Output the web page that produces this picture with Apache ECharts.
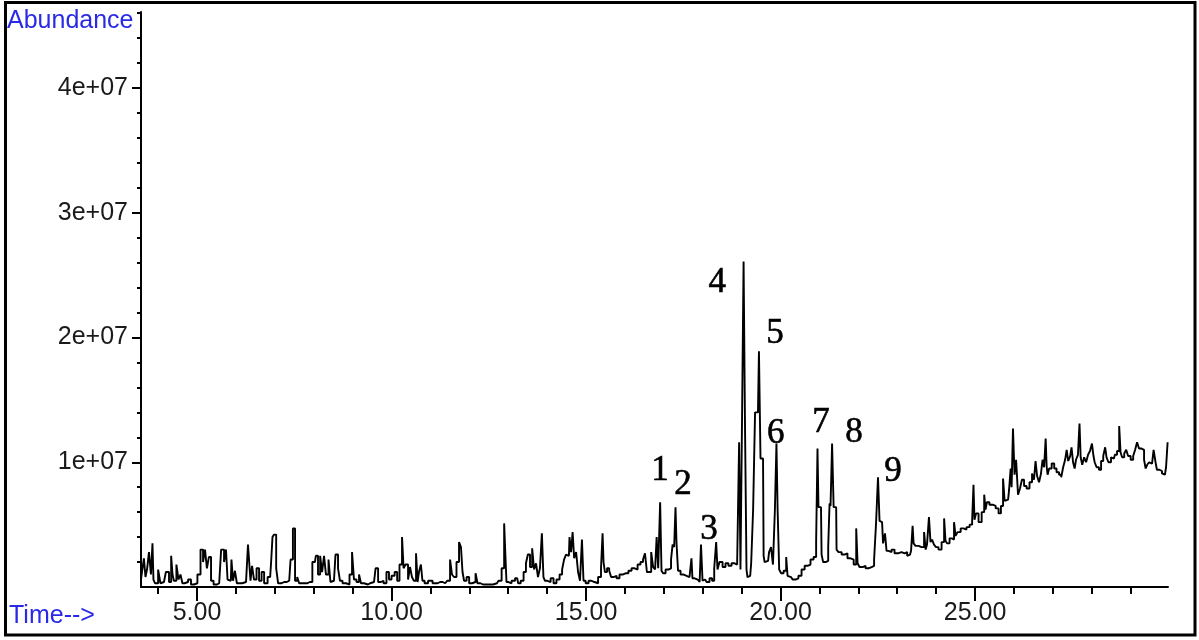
<!DOCTYPE html>
<html><head><meta charset="utf-8">
<script src="https://cdn.jsdelivr.net/npm/echarts@6/dist/echarts.min.js"></script>
<style>html,body{margin:0;padding:0;background:#fff}#c{width:1199px;height:640px}</style>
</head><body><div id="c"></div>
<script>
// Retention time (min)
const retentionTimes = [
3.56,3.61,3.66,3.69,3.74,3.79,3.84,3.87,3.89,3.95,4.05,4.07,4.15,4.25,4.31,4.36,4.38,4.43,4.51,4.54,4.61,4.64,4.72,4.82,4.87,4.97,
5.05,5.13,5.18,5.23,5.28,5.33,5.39,5.46,5.57,5.67,5.72,5.77,5.80,5.87,5.90,5.95,6.00,6.05,6.16,6.26,6.36,6.39,6.44,6.49,6.57,6.62,6.70,6.75,6.88,6.93,6.95,
7.01,7.06,7.11,7.24,7.37,7.44,7.49,7.55,7.60,7.65,7.78,7.90,8.03,8.08,8.14,8.19,8.24,8.29,8.34,8.42,8.44,8.52,8.60,8.65,8.70,8.78,8.88,8.96,
9.01,9.06,9.14,9.19,9.24,9.34,9.45,9.55,9.63,9.68,9.76,9.83,9.91,9.96,10.04,10.12,10.17,10.24,10.30,10.32,10.40,10.45,10.50,10.55,10.60,10.66,10.68,10.73,10.78,10.81,10.89,10.99,
11.12,11.25,11.38,11.48,11.53,11.58,11.63,11.71,11.76,11.81,11.84,11.89,11.97,12.02,12.12,12.20,12.22,12.35,12.48,12.61,12.71,12.79,12.87,12.92,12.94,12.97,
13.05,13.12,13.23,13.28,13.36,13.43,13.48,13.53,13.59,13.64,13.69,13.74,13.79,13.84,13.89,13.92,13.97,14.05,14.13,14.20,14.28,14.36,14.41,14.46,14.51,14.56,14.59,14.64,14.67,14.72,14.77,14.82,14.87,14.92,14.95,
15.03,15.10,15.18,15.26,15.36,15.41,15.44,15.46,15.51,15.57,15.62,15.67,15.75,15.82,15.90,15.98,16.05,16.13,16.21,16.29,16.36,16.44,16.49,16.54,16.59,16.65,16.70,16.75,16.80,16.83,16.88,16.93,16.95,
17.01,17.08,17.16,17.21,17.24,17.29,17.31,17.34,17.39,17.47,17.55,17.62,17.70,17.72,17.75,17.83,17.91,17.93,17.98,18.01,18.06,18.14,18.21,18.27,18.32,18.37,18.39,18.47,18.55,18.62,18.70,18.78,18.86,18.91,18.96,18.98,
19.04,19.06,19.11,19.14,19.16,19.22,19.27,19.32,19.37,19.42,19.47,19.50,19.55,19.58,19.60,19.68,19.73,19.78,19.83,19.88,19.91,19.94,19.99,
20.04,20.12,20.17,20.19,20.27,20.35,20.42,20.50,20.58,20.66,20.73,20.81,20.89,20.94,20.96,20.99,21.04,21.07,21.12,21.20,21.25,21.27,21.30,21.35,21.38,21.43,21.45,21.53,21.61,21.68,21.76,21.84,21.92,21.97,21.99,
22.07,22.15,22.22,22.30,22.38,22.43,22.48,22.53,22.56,22.61,22.66,22.71,22.74,22.82,22.89,22.97,23.07,23.15,23.23,23.28,23.33,23.38,23.41,23.43,23.51,23.59,23.66,23.72,23.74,23.79,23.84,23.87,23.92,23.97,
24.02,24.10,24.18,24.23,24.25,24.31,24.38,24.43,24.49,24.51,24.59,24.67,24.74,24.82,24.90,24.95,24.97,25.00,25.05,25.13,25.21,25.26,25.28,25.33,25.41,25.49,25.57,25.64,25.69,25.75,25.77,25.85,25.90,25.93,25.95,
26.00,26.03,26.08,26.13,26.18,26.23,26.29,26.36,26.44,26.49,26.54,26.57,26.62,26.67,26.72,26.75,26.80,26.83,26.85,26.88,26.93,27.01,27.06,27.13,27.19,27.24,27.29,27.34,27.37,27.42,27.47,27.49,27.55,27.57,27.62,27.67,27.70,27.73,27.78,27.83,27.88,27.93,27.98,
28.03,28.06,28.09,28.16,28.21,28.27,28.32,28.37,28.39,28.47,28.52,28.57,28.62,28.68,28.73,28.75,28.81,28.86,28.91,28.96,29.04,29.09,29.14,29.19,29.24,29.32,29.37,29.40,29.45,29.50,29.55,29.63,29.65,29.70,29.78,29.83,29.88,29.94,29.96
];
// Abundance (millions of counts)
const abundanceMillions = [
0.6,1.2,2.3,0.8,1.4,2.8,1.0,3.5,0.6,0.3,1.4,0.3,0.4,1.2,0.4,2.5,1.0,0.5,1.8,0.6,1.0,0.3,0.4,0.6,0.2,0.3,
1.0,3.0,2.0,3.0,1.5,2.4,0.5,0.2,0.3,3.0,2.0,3.0,0.6,0.5,2.2,0.5,1.3,0.3,0.3,0.4,3.4,0.5,1.7,0.6,1.5,0.5,1.2,0.3,0.8,2.0,4.0,
4.2,1.5,0.3,0.4,0.5,2.2,4.7,0.5,0.8,0.3,0.3,0.4,2.0,2.5,1.0,2.5,1.2,2.5,1.0,2.2,0.4,0.5,2.6,1.5,0.5,0.3,0.2,1.0,
2.8,0.6,0.4,1.0,0.3,0.2,0.3,0.4,1.5,0.4,0.5,0.3,1.2,0.6,0.9,1.2,0.5,1.8,4.0,1.5,1.8,0.6,1.6,0.8,0.5,2.7,0.4,1.2,1.8,0.5,0.3,0.5,
0.3,0.4,0.3,0.5,2.2,1.0,0.8,2.0,3.6,3.2,1.2,0.5,0.8,0.3,0.4,1.1,0.3,0.2,0.2,0.2,0.3,0.5,1.5,5.1,2.3,0.4,
0.3,0.5,0.7,0.3,0.5,1.2,1.9,2.6,1.6,3.1,1.4,1.9,0.8,1.5,4.3,0.8,0.5,0.4,0.7,0.3,0.6,1.0,1.4,2.2,2.6,2.5,4.0,2.8,4.4,2.3,2.8,1.2,0.5,3.8,0.5,
0.3,0.5,0.4,0.3,0.8,1.5,4.3,2.0,1.2,1.5,1.3,0.8,0.9,0.7,1.0,1.1,1.1,1.3,1.5,1.4,1.8,2.0,2.2,2.7,1.2,1.2,2.8,1.6,1.4,4.0,1.5,6.8,1.3,
1.1,1.4,1.5,2.2,3.4,3.2,6.4,3.6,1.3,1.0,0.9,0.8,0.9,2.3,0.7,0.6,0.7,0.4,3.4,0.5,0.6,0.4,0.7,0.5,1.5,3.6,1.4,2.0,1.6,1.9,1.7,1.9,1.8,2.0,11.6,1.4,
13.4,26.1,13.4,1.4,0.8,0.9,1.9,6.2,14.0,14.0,18.9,10.3,10.3,2.5,2.0,2.1,2.8,3.2,1.8,6.2,11.5,6.2,1.4,
1.1,1.3,2.4,0.9,0.8,0.6,0.7,0.9,1.4,1.7,1.8,2.2,2.4,3.6,11.1,6.4,6.4,2.6,2.0,2.1,3.2,6.7,6.5,11.5,6.4,6.4,3.0,2.8,2.6,2.7,2.3,2.2,1.8,4.7,1.9,
1.6,1.7,1.5,1.6,1.7,2.2,5.1,8.8,5.3,5.2,3.5,4.3,2.9,2.8,3.0,2.7,2.8,2.7,2.8,2.5,2.6,2.9,4.9,3.5,3.3,3.2,3.2,4.4,3.0,3.4,5.6,3.6,3.8,3.4,
3.2,3.0,3.6,5.5,3.7,3.5,3.9,3.8,5.2,4.1,4.4,4.7,4.6,4.8,5.0,5.3,8.2,5.4,5.9,5.2,6.0,7.4,6.2,6.8,6.6,6.5,6.3,5.9,6.5,8.7,6.9,7.0,7.8,9.5,8.0,
12.7,9.0,10.2,7.4,7.9,8.6,8.1,7.9,8.4,9.1,8.6,10.1,8.9,8.4,9.1,10.2,9.6,11.9,9.7,9.0,9.5,9.9,9.5,9.2,9.0,8.8,9.6,10.2,11.0,10.1,10.5,11.2,10.0,9.5,10.2,10.6,13.1,10.4,9.8,10.4,10.0,10.6,10.9,
11.5,10.5,10.0,9.6,9.4,10.1,10.5,11.2,10.4,10.0,10.4,10.3,10.6,10.9,12.9,10.8,10.4,10.7,11.0,10.5,10.2,10.5,11.0,11.6,11.1,11.0,10.2,9.5,9.8,10.0,9.9,11.0,10.0,9.4,9.3,9.1,9.0,9.6,11.6
];
// Peak annotations
const peakNames = ['1','2','3','4','5','6','7','8','9'];
const peakLabelTimes = [16.90,17.49,18.16,18.37,19.86,19.88,21.04,21.89,22.89];
const peakLabelAbundanceMillions = [9.3,8.2,4.6,24.4,20.3,12.3,13.2,12.4,9.2];
// Axis ticks
const xMajorTicks = [5,10,15,20,25];
const xMinorTicks = [4,6,7,8,9,11,12,13,14,16,17,18,19,21,22,23,24,26,27,28,29];
const yMajorTicks = [1e7,2e7,3e7,4e7];
const yMinorTicks = [2e6,4e6,6e6,8e6,12e6,14e6,16e6,18e6,22e6,24e6,26e6,28e6,32e6,34e6,36e6,38e6,42e6,44e6,46e6];

const X_MIN = 3.56, X_MAX = 29.96, Y_MIN = 0, Y_MAX = 4.61e7;
const axisFont = {fontFamily:'"Liberation Sans", Arial, sans-serif', fontSize:25, color:'#1a1a1a'};
const black = {color:'#000', width:2};

const chart = echarts.init(document.getElementById('c'), null, {renderer:'canvas'});
chart.setOption({
  animation:false,
  grid:{left:141, top:12, right:31, bottom:53},
  xAxis:[
    {type:'value', min:X_MIN, max:X_MAX, position:'bottom',
     axisLine:{onZero:false, lineStyle:black},
     axisTick:{customValues:xMajorTicks, length:14, lineStyle:black},
     axisLabel:Object.assign({customValues:xMajorTicks, formatter:v=>v.toFixed(2), margin:14}, axisFont),
     splitLine:{show:false}},
    {type:'value', min:X_MIN, max:X_MAX, position:'bottom',
     axisLine:{show:false},
     axisTick:{customValues:xMinorTicks, length:7, lineStyle:black},
     axisLabel:{show:false}, splitLine:{show:false}}
  ],
  yAxis:[
    {type:'value', min:Y_MIN, max:Y_MAX, position:'left',
     axisLine:{onZero:false, lineStyle:black},
     axisTick:{customValues:yMajorTicks, length:9, lineStyle:black},
     axisLabel:Object.assign({customValues:yMajorTicks, formatter:v=>(v/1e7)+'e+07', margin:13}, axisFont),
     splitLine:{show:false}},
    {type:'value', min:Y_MIN, max:Y_MAX, position:'left',
     axisLine:{show:false},
     axisTick:{customValues:yMinorTicks, length:4, lineStyle:black},
     axisLabel:{show:false}, splitLine:{show:false}}
  ],
  series:[
    {type:'line', xAxisIndex:0, yAxisIndex:0, symbol:'none', showSymbol:false, step:'middle',
     data: retentionTimes.map((t,i)=>[t, abundanceMillions[i]*1e6]),
     lineStyle:{color:'#000', width:1.9}, clip:false},
    {type:'scatter', xAxisIndex:0, yAxisIndex:0, symbolSize:1,
     itemStyle:{color:'rgba(0,0,0,0)'},
     data: peakNames.map((n,i)=>[peakLabelTimes[i], peakLabelAbundanceMillions[i]*1e6, n]),
     label:{show:true, position:'inside', formatter:p=>p.data[2], opacity:1,
            fontFamily:'"Liberation Serif", "Times New Roman", serif', fontSize:35, color:'#000',
            textBorderColor:'#000', textBorderWidth:0.6}}
  ],
  graphic:[
    {type:'rect', shape:{x:5.5, y:2.5, width:1189.5, height:632.5}, style:{fill:null, stroke:'#000', lineWidth:3}, z:100},
    {type:'text', x:7, y:21, style:{text:'Abundance', fill:'#2a2ae6', fontSize:25, fontFamily:'"Liberation Sans", Arial, sans-serif', verticalAlign:'middle'}},
    {type:'text', x:9, y:616, style:{text:'Time-->', fill:'#2a2ae6', fontSize:25, fontFamily:'"Liberation Sans", Arial, sans-serif', verticalAlign:'middle'}}
  ]
});
</script>
</body></html>
